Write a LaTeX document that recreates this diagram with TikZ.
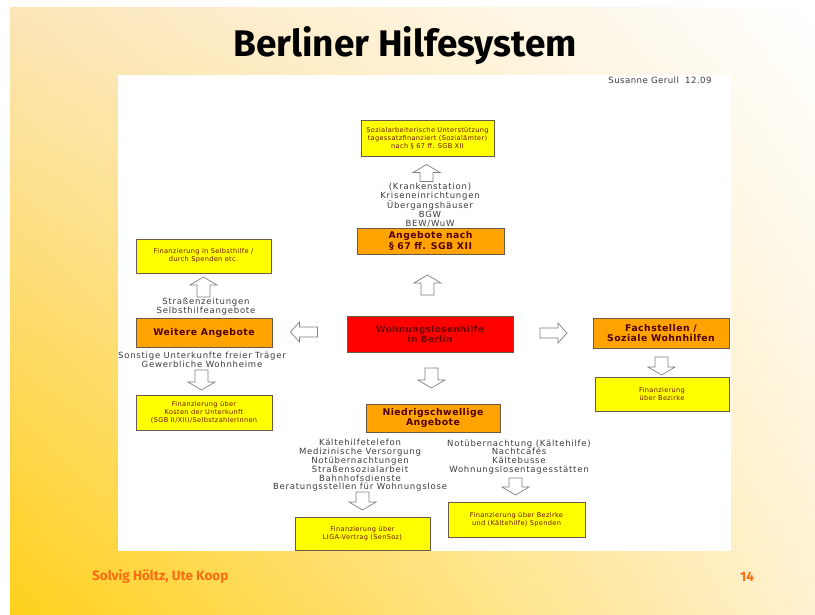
\documentclass[tikz,border=0pt]{standalone}
\usepackage{fontspec}
\usetikzlibrary{shadings}
\newfontfamily\dv{DejaVu Sans}
\newfontfamily\dvs{DejaVu Sans}[LetterSpace=5]
\newfontfamily\dvw{DejaVu Sans}[LetterSpace=9]
\newfontfamily\ti{Fira Sans}
\definecolor{byellow}{RGB}{255,255,0}
\definecolor{borange}{RGB}{255,163,0}
\definecolor{bred}{RGB}{255,0,0}
\definecolor{ytext}{RGB}{110,20,0}
\definecolor{otext}{RGB}{80,0,0}
\definecolor{rtext}{RGB}{105,0,0}
\definecolor{bline}{RGB}{105,90,70}
\definecolor{bodytext}{RGB}{60,60,60}
\definecolor{footc}{RGB}{250,108,20}
\definecolor{bgA}{RGB}{252,230,185}
\definecolor{bgB}{RGB}{255,255,255}
\definecolor{bgC}{RGB}{255,208,28}
\definecolor{bgD}{RGB}{255,241,208}
\tikzset{
  anybox/.style={draw=bline, line width=0.6pt, inner sep=0pt, align=center},
  ybox/.style={anybox, fill=byellow, text=ytext, font=\dvs\fontsize{6.6}{8}\selectfont},
  obox/.style={anybox, fill=borange, text=otext, font=\dvs\bfseries\fontsize{9.3}{10.5}\selectfont},
  rbox/.style={anybox, fill=bred, text=rtext, font=\dvs\bfseries\fontsize{8.8}{10.5}\selectfont},
  listtxt/.style={inner sep=0pt, align=center, text=bodytext, font=\dvw\fontsize{8.5}{8.8}\selectfont},
  arrowbox/.style={draw=black!50, fill=white, line width=0.7pt, line join=miter}
}
\newcommand\blockarr[7]{%
  \begin{scope}[shift={(#1,#2)}, rotate=#3]
    \draw[arrowbox] (-#4/2,-#6/2) -- ({#4/2-#7},-#6/2) -- ({#4/2-#7},-#5/2) -- (#4/2,0)
      -- ({#4/2-#7},#5/2) -- ({#4/2-#7},#6/2) -- (-#4/2,#6/2) -- cycle;
  \end{scope}}
\begin{document}
\begin{tikzpicture}[x=1pt,y=-1pt]
\useasboundingbox (0,0) rectangle (815,614);
\fill[white] (0,0) rectangle (815,614);
\shade[upper left=bgA, upper right=bgB, lower left=bgC, lower right=bgD] (10,7) rectangle (815,614);
\fill[white] (118,75) rectangle (731,551);

\node[font=\ti\bfseries\fontsize{37}{42}\selectfont, inner sep=0pt] (title) at (405,46) {Berliner Hilfesystem};
\node[font=\dvs\fontsize{8.6}{10}\selectfont, text=bodytext, inner sep=0pt] (author) at (660,80) {Susanne Gerull\ \ 12.09};

% boxes
\node[ybox, minimum width=133, minimum height=36] (top) at (427.5,138) {Sozialarbeiterische Unterstützung\\tagessatzfinanziert (Sozialämter)\\nach § 67 ff. SGB XII};
\node[obox, minimum width=147, minimum height=26] (ang) at (430.5,241) {Angebote nach\\§ 67 ff. SGB XII};
\node[rbox, minimum width=166, minimum height=36] (red) at (430,334) {Wohnungslosenhilfe\\in Berlin};
\node[obox, minimum width=134, minimum height=28] (nied) at (433,418) {Niedrigschwellige\\Angebote};
\node[obox, minimum width=136, minimum height=30] (fach) at (661,333) {Fachstellen /\\Soziale Wohnhilfen};
\node[ybox, minimum width=134, minimum height=34] (fachfin) at (662,394) {Finanzierung\\über Bezirke};
\node[obox, minimum width=136, minimum height=29] (weit) at (204,332.5) {Weitere Angebote};
\node[ybox, minimum width=135, minimum height=34] (selbst) at (203.5,256) {Finanzierung in Selbsthilfe /\\durch Spenden etc.};
\node[ybox, minimum width=136, minimum height=35] (kosten) at (204,412.5) {Finanzierung über\\Kosten der Unterkunft\\(SGB II/XII)/SelbstzahlerInnen};
\node[ybox, minimum width=135, minimum height=33] (liga) at (362.5,533.5) {Finanzierung über\\LIGA-Vertrag (SenSoz)};
\node[ybox, minimum width=137, minimum height=35] (bez) at (516.5,519.5) {Finanzierung über Bezirke\\und (Kältehilfe) Spenden};

% lists
\node[listtxt] (l67) at (430,205) {(Krankenstation)\\Kriseneinrichtungen\\Übergangshäuser\\BGW\\BEW/WuW};
\node[listtxt] (lstr) at (206,307) {Straßenzeitungen\\Selbsthilfeangebote};
\node[listtxt] (lsons) at (202,360) {Sonstige Unterkunfte freier Träger\\Gewerbliche Wohnheime};
\node[listtxt] (lkalt) at (360,465.5) {Kältehilfetelefon\\Medizinische Versorgung\\Notübernachtungen\\Straßensozialarbeit\\Bahnhofsdienste\\Beratungsstellen für Wohnungslose};
\node[listtxt] (lnot) at (519,457) {Notübernachtung (Kältehilfe)\\Nachtcafés\\Kältebusse\\Wohnungslosentagesstätten};

% block arrows
\blockarr{426.5}{173}{90}{17}{27}{13}{8}
\blockarr{427.5}{285}{90}{20}{27}{13}{8}
\blockarr{431.5}{378}{-90}{20}{27}{13}{8}
\blockarr{553.5}{333}{0}{27}{20}{10}{9}
\blockarr{304}{332}{180}{27}{20}{10}{9}
\blockarr{661.5}{366}{-90}{18}{27}{13}{8}
\blockarr{203.5}{287}{90}{20}{27}{13}{8}
\blockarr{201.5}{380}{-90}{20}{27}{13}{8}
\blockarr{362.5}{501}{-90}{18}{27}{13}{8}
\blockarr{515.5}{486.5}{-90}{17}{27}{13}{8}

% footer
\node[font=\ti\bfseries\fontsize{13.5}{15}\selectfont, text=footc, anchor=west, inner sep=0pt] (foot) at (92,577) {Solvig Höltz, Ute Koop};
\node[font=\ti\bfseries\fontsize{13.5}{15}\selectfont, text=footc, inner sep=0pt] (page) at (747,577) {14};
\end{tikzpicture}
\end{document}
